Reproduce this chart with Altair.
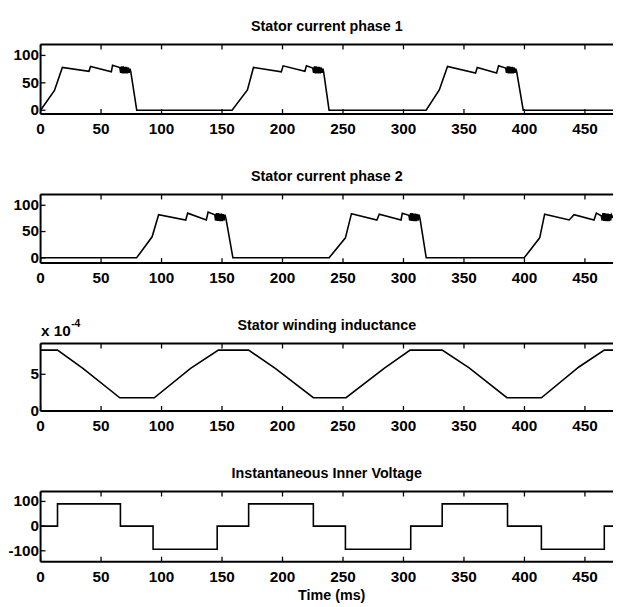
import altair as alt
import pandas as pd

# ---------------- data ----------------
x_ticks = [0, 50, 100, 150, 200, 250, 300, 350, 400, 450]
x_tick_labels = ["0", "50", "100", "150", "200", "250", "300", "350", "400", "450"]

# Stator current phase 1 (time ms, current)
phase1 = [
    (0, 0), (11.5, 36), (18, 78), (40, 71), (41.3, 80), (58.5, 70), (59.5, 82), (65.5, 78),
    (66.2, 68), (66.9, 80), (67.6, 67), (68.3, 80), (69.0, 67), (69.7, 79), (70.4, 67),
    (71.1, 79), (71.8, 67), (72.5, 78), (73.2, 68), (73.9, 76), (74.6, 70), (79.5, 0),
    (158.3, 0), (171, 37), (176, 78), (199, 70), (200.5, 81), (218.5, 71), (219.8, 81), (225, 77),
    (225.7, 68), (226.4, 80), (227.1, 67), (227.8, 80), (228.5, 67), (229.2, 79), (229.9, 67),
    (230.6, 79), (231.3, 67), (232.0, 78), (232.7, 68), (233.4, 76), (234.0, 70), (238.5, 0),
    (318.7, 0), (329.6, 37), (336.4, 80), (359.6, 68), (361, 78), (377, 68), (378.6, 81), (384.5, 77),
    (385.2, 68), (385.9, 80), (386.6, 67), (387.3, 80), (388.0, 67), (388.7, 79), (389.4, 67),
    (390.1, 79), (390.8, 67), (391.5, 78), (392.2, 68), (392.9, 76), (393.6, 70), (399, 0),
    (473.2, 0),
]

# Stator current phase 2 (time ms, current)
phase2 = [
    (0, 0), (79.4, 0), (92.2, 40), (97.6, 82), (120, 72), (121.6, 85), (137, 72), (138.5, 87), (144, 82),
    (144.7, 71), (145.4, 85), (146.1, 70), (146.8, 85), (147.5, 70), (148.2, 84), (148.9, 70),
    (149.6, 84), (150.3, 70), (151.0, 83), (151.7, 71), (152.4, 82), (153.3, 74), (159, 0),
    (238.5, 0), (252, 38), (257, 84), (278, 72), (280, 83), (298, 72), (299, 85), (304.5, 81),
    (305.2, 71), (305.9, 85), (306.6, 70), (307.3, 85), (308.0, 70), (308.7, 84), (309.4, 70),
    (310.1, 84), (310.8, 70), (311.5, 83), (312.2, 71), (312.9, 82), (313.7, 74), (318.8, 0),
    (399.8, 0), (412.6, 38), (416.7, 83), (437, 72), (441, 82), (457.5, 72), (459.4, 85), (463.5, 80),
    (464.2, 71), (464.9, 85), (465.6, 70), (466.3, 85), (467.0, 70), (467.7, 84), (468.4, 70),
    (469.1, 84), (469.8, 70), (470.5, 83), (471.2, 71), (471.9, 82), (473.2, 76),
]

# Stator winding inductance (time ms, henry)
inductance = [
    (0, 8.3e-4), (14, 8.3e-4), (35, 5.8e-4), (65.5, 1.8e-4), (94, 1.8e-4), (124, 5.8e-4),
    (147, 8.3e-4), (172, 8.3e-4), (194, 5.8e-4), (225.5, 1.8e-4), (252.5, 1.8e-4), (284, 5.8e-4),
    (305.5, 8.3e-4), (332, 8.3e-4), (354, 5.9e-4), (385.5, 1.8e-4), (414, 1.8e-4), (445, 6.0e-4),
    (466, 8.3e-4), (473.2, 8.3e-4),
]

# Instantaneous inner voltage (time ms, volt)
voltage = [
    (0, 0), (14, 0), (14, 90), (66, 90), (66, 0), (93, 0), (93, -94), (146, -94), (146, 0),
    (172, 0), (172, 90), (225.5, 90), (225.5, 0), (252, 0), (252, -94), (306, -94), (306, 0),
    (332, 0), (332, 90), (386, 90), (386, 0), (414, 0), (414, -94), (466, -94), (466, 0),
    (473.2, 0),
]

titles = ["Stator current phase 1", "Stator current phase 2",
          "Stator winding inductance", "Instantaneous Inner Voltage"]
y_ticks = [[0, 50, 100], [0, 50, 100], [0, 5e-4], [-100, 0, 100]]
y_tick_labels = [["0", "50", "100"], ["0", "50", "100"], ["0", "5"], ["-100", "0", "100"]]
y_domains = [[-7, 120], [-10, 120.5], [0, 9.2e-4], [-144, 140]]
x_title = "Time (ms)"
exp_base = "x 10"
exp_power = "-4"

# ---------------- layout / style ----------------
W, H = 580, 590
FONT = "Liberation Sans, Arial, Helvetica, sans-serif"
FS = 15.5
TFS = 14.5
WEIGHT = "bold"
panel_box = [(33, 103.5), (185, 254.5), (336, 404.3), (486, 557)]  # (top, bottom) in px
series = [phase1, phase2, inductance, voltage]

xs = alt.Scale(domain=[0, 473.2], range=[0, W], nice=False, zero=False)
dummy = alt.Data(values=[{}])
xdf = pd.DataFrame({"t": x_ticks, "lab": x_tick_labels})

layers = []
for k in range(4):
    top, bot = panel_box[k]
    ys = alt.Scale(domain=y_domains[k], range=[bot, top], nice=False, zero=False)
    df = pd.DataFrame(series[k], columns=["t", "v"])
    df["i"] = range(len(df))
    ydf = pd.DataFrame({"v": y_ticks[k], "lab": y_tick_labels[k]})

    # curve
    layers.append(alt.Chart(df).mark_line(color="black", strokeWidth=1.6).encode(
        x=alt.X("t:Q", scale=xs, axis=None),
        y=alt.Y("v:Q", scale=ys, axis=None),
        order=alt.Order("i:Q"),
    ))
    # frame (left, top, bottom)
    layers.append(alt.Chart(dummy).mark_rule(color="black", strokeWidth=2).encode(
        x=alt.value(0), y=alt.value(top), y2=alt.value(bot)))
    layers.append(alt.Chart(dummy).mark_rule(color="black", strokeWidth=2).encode(
        x=alt.value(0), x2=alt.value(W), y=alt.value(top)))
    layers.append(alt.Chart(dummy).mark_rule(color="black", strokeWidth=2).encode(
        x=alt.value(0), x2=alt.value(W), y=alt.value(bot)))
    # inward x ticks, bottom and top
    layers.append(alt.Chart(xdf).mark_rule(color="black", strokeWidth=1.3).encode(
        x=alt.X("t:Q", scale=xs, axis=None), y=alt.value(bot), y2=alt.value(bot - 5)))
    layers.append(alt.Chart(xdf).mark_rule(color="black", strokeWidth=1.3).encode(
        x=alt.X("t:Q", scale=xs, axis=None), y=alt.value(top), y2=alt.value(top + 5)))
    # x tick labels
    layers.append(alt.Chart(xdf).mark_text(
        font=FONT, fontSize=FS, fontWeight=WEIGHT, align="center", baseline="alphabetic",
        color="black").encode(
        x=alt.X("t:Q", scale=xs, axis=None), y=alt.value(bot + 20.5), text="lab:N"))
    # inward y ticks
    layers.append(alt.Chart(ydf).mark_rule(color="black", strokeWidth=1.3).encode(
        y=alt.Y("v:Q", scale=ys, axis=None), x=alt.value(0), x2=alt.value(5)))
    # y tick labels
    layers.append(alt.Chart(ydf).mark_text(
        font=FONT, fontSize=FS, fontWeight=WEIGHT, align="right", baseline="middle",
        color="black").encode(
        y=alt.Y("v:Q", scale=ys, axis=None), x=alt.value(-1.5), text="lab:N"))
    # panel title
    layers.append(alt.Chart(dummy).mark_text(
        text=titles[k], font=FONT, fontSize=TFS, fontWeight=WEIGHT, align="center",
        baseline="alphabetic", color="black").encode(
        x=alt.value(W / 2), y=alt.value(top - 13.5)))

# exponent annotation of the inductance panel
layers.append(alt.Chart(dummy).mark_text(
    text=exp_base, font=FONT, fontSize=FS, fontWeight=WEIGHT, align="left",
    baseline="alphabetic", color="black").encode(x=alt.value(0.5), y=alt.value(328)))
layers.append(alt.Chart(dummy).mark_text(
    text=exp_power, font=FONT, fontSize=10.5, fontWeight=WEIGHT, align="left",
    baseline="alphabetic", color="black").encode(x=alt.value(31), y=alt.value(319)))
# x axis title
layers.append(alt.Chart(dummy).mark_text(
    text=x_title, font=FONT, fontSize=TFS, fontWeight=WEIGHT, align="center",
    baseline="alphabetic", color="black").encode(x=alt.value(295), y=alt.value(596)))

chart = alt.layer(*layers).resolve_scale(y="independent").properties(
    width=W, height=H,
    padding={"left": 33, "top": 0, "right": 0, "bottom": 9},
    autosize=alt.AutoSizeParams(type="none"),
    background="white",
).configure_view(stroke=None)

chart.save("out.html", embed_options={"renderer": "svg", "actions": False})
